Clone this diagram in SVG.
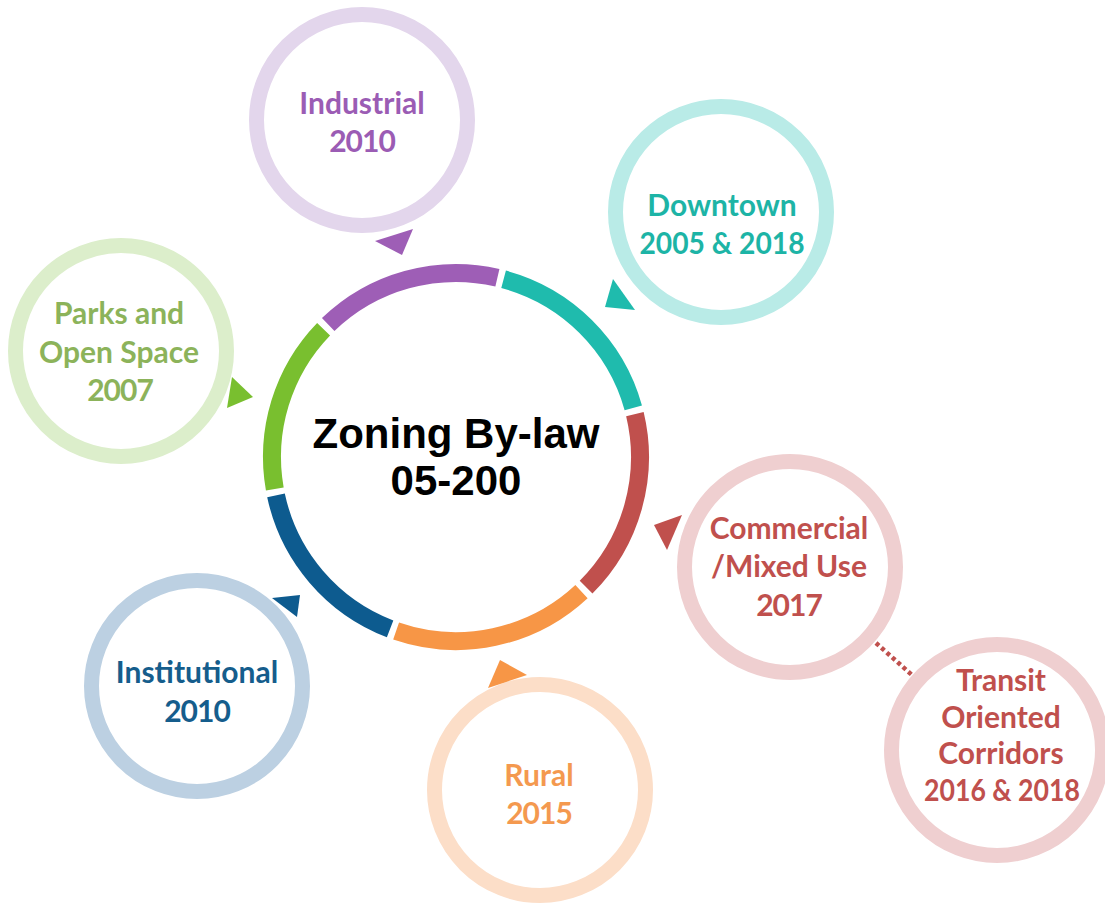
<svg xmlns="http://www.w3.org/2000/svg" width="1105" height="906" viewBox="0 0 1105 906">
  <style>
    .ring { fill: #ffffff; stroke-width: 15; }
    .seg { fill: none; stroke-width: 18; }
    .lbl { font-family: Lato, "Open Sans", "Liberation Sans", sans-serif; font-weight: 700; font-size: 30px; text-anchor: middle; }
    .num { letter-spacing: -1px; }
    .main { font-family: "Liberation Sans", Arial, sans-serif; font-weight: 700; font-size: 42px; text-anchor: middle; fill: #000000; }
  </style>
  <rect width="1105" height="906" fill="#ffffff"/>

  <g id="center">
    <path class="seg" stroke="#9E5EB6" d="M328.2,324.6 A184,184 0 0 1 497.4,277.7"/>
    <path class="seg" stroke="#1FBBAD" d="M503.6,279.3 A184,184 0 0 1 633.3,407.8"/>
    <path class="seg" stroke="#C0504D" d="M634.9,414.1 A184,184 0 0 1 586.1,587.1"/>
    <path class="seg" stroke="#F79646" d="M581.5,591.6 A184,184 0 0 1 396.1,631.0"/>
    <path class="seg" stroke="#0D5B8F" d="M390.1,628.8 A184,184 0 0 1 276.0,495.3"/>
    <path class="seg" stroke="#79BF2F" d="M274.8,489.0 A184,184 0 0 1 323.6,329.2"/>
    <text class="main" x="456" y="448">Zoning By-law</text>
    <text class="main" x="456" y="495">05-200</text>
  </g>

  <g id="industrial">
    <circle class="ring" cx="362" cy="120" r="105.5" stroke="#E3D6EC"/>
    <text class="lbl" fill="#9B5CB4" x="362" y="114">Industrial</text>
    <text class="lbl num" fill="#9B5CB4" x="362" y="152">2010</text>
  </g>

  <g id="downtown">
    <circle class="ring" cx="721" cy="212" r="105.5" stroke="#B9EBE7"/>
    <text class="lbl" fill="#1DB4A6" x="722" y="216">Downtown</text>
    <text class="lbl" fill="#1DB4A6" x="722" y="254" textLength="165" lengthAdjust="spacingAndGlyphs">2005 &amp; 2018</text>
  </g>

  <g id="parks">
    <circle class="ring" cx="121" cy="351" r="105.5" stroke="#DCEECB"/>
    <text class="lbl" fill="#8CB35A" x="119" y="324">Parks and</text>
    <text class="lbl" fill="#8CB35A" x="119" y="363">Open Space</text>
    <text class="lbl num" fill="#8CB35A" x="120" y="401">2007</text>
  </g>

  <g id="commercial">
    <circle class="ring" cx="790" cy="567" r="105.5" stroke="#EFCFD0"/>
    <text class="lbl" fill="#C0504D" x="789" y="539">Commercial</text>
    <text class="lbl" fill="#C0504D" x="789" y="577">/Mixed Use</text>
    <text class="lbl num" fill="#C0504D" x="789" y="616">2017</text>
  </g>

  <g id="transit">
    <circle class="ring" cx="997" cy="750" r="105.5" stroke="#EFCFD0"/>
    <text class="lbl" fill="#C0504D" x="1001" y="691">Transit</text>
    <text class="lbl" fill="#C0504D" x="1001" y="728">Oriented</text>
    <text class="lbl" fill="#C0504D" x="1001" y="764">Corridors</text>
    <text class="lbl" fill="#C0504D" x="1002" y="801" textLength="156" lengthAdjust="spacingAndGlyphs">2016 &amp; 2018</text>
  </g>

  <g id="rural">
    <circle class="ring" cx="540" cy="790" r="105.5" stroke="#FCDEC8"/>
    <text class="lbl" fill="#F4994F" x="539" y="786">Rural</text>
    <text class="lbl num" fill="#F4994F" x="539" y="824">2015</text>
  </g>

  <g id="institutional">
    <circle class="ring" cx="197" cy="686" r="105.5" stroke="#BCD0E2"/>
    <text class="lbl" fill="#155D8C" x="197" y="683">Institutional</text>
    <text class="lbl num" fill="#155D8C" x="197" y="722">2010</text>
  </g>

  <g id="connectors">
    <line x1="876" y1="643" x2="912" y2="675" stroke="#C0504D" stroke-width="4.5" stroke-dasharray="4 3.2"/>
    <polygon points="375,241 413,229 402,255" fill="#9E5EB6"/>
    <polygon points="613,279 605,307 635,310" fill="#1FBBAD"/>
    <polygon points="232,377 253,397 227,408" fill="#79BF2F"/>
    <polygon points="682,515 654,525 667,550" fill="#C0504D"/>
    <polygon points="500,660 527,675 488,688" fill="#F79646"/>
    <polygon points="272,598 300,595 297,617" fill="#0D5B8F"/>
  </g>
</svg>
